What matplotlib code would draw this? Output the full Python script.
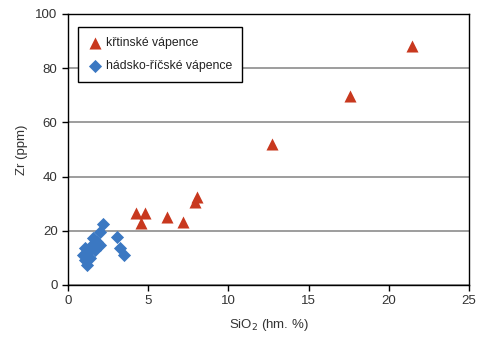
import matplotlib
matplotlib.use('Agg')
import matplotlib.pyplot as plt

# křtinské vápence
krt_sio2 = [4.24, 4.80, 4.55, 6.17, 7.17, 7.92, 8.04, 12.72, 17.58, 21.45]
krt_zr = [26.6, 26.6, 22.9, 25.1, 23.2, 30.6, 32.5, 52.0, 69.7, 88.2]

# hádsko-říčské vápence
had_sio2 = [2.18, 3.05, 3.24, 3.49, 2.00, 1.56, 1.81, 1.50, 1.25, 0.94, 1.06, 1.18, 2.00, 1.37, 1.68, 1.06]
had_zr = [22.5, 17.7, 13.7, 11.1, 19.6, 17.3, 15.9, 14.8, 12.2, 11.1, 9.2, 7.4, 14.8, 10.0, 12.9, 13.7]

plt.rcParams['font.family'] = ['Liberation Sans', 'DejaVu Sans']

fig = plt.figure(figsize=(4.83, 3.47), dpi=100)
ax = fig.add_axes([0.1408, 0.1787, 0.8302, 0.781])

ax.scatter(krt_sio2, krt_zr, marker='^', s=75, color='#c8381e', linewidths=0,
           label='křtinské vápence', zorder=3)
ax.scatter(had_sio2, had_zr, marker='D', s=45, color='#3b78c2', linewidths=0,
           label='hádsko-říčské vápence', zorder=3)

ax.set_xlim(0, 25)
ax.set_ylim(0, 100)
ax.set_xticks(range(0, 26, 5))
ax.set_yticks(range(0, 101, 20))
ax.yaxis.grid(True, color='#8c8c8c', linewidth=1.2)
ax.set_axisbelow(True)
for s in ax.spines.values():
    s.set_linewidth(1.0)
ax.tick_params(direction='out', length=4, width=1, labelsize=9.5,
               colors='black', labelcolor='#333333')

ax.set_xlabel('SiO$_2$ (hm. %)', fontsize=9.5, color='#333333', labelpad=7)
ax.set_ylabel('Zr (ppm)', fontsize=9.5, color='#333333', labelpad=5)

leg = ax.legend(loc='upper left', bbox_to_anchor=(0.025, 0.952), borderaxespad=0,
                fontsize=8.8, frameon=True, fancybox=False, edgecolor='black',
                framealpha=1, handletextpad=0.3, borderpad=0.8,
                labelspacing=0.95, handlelength=1.2)
leg.get_frame().set_linewidth(1.0)
for t in leg.get_texts():
    t.set_color('#222222')

plt.savefig('out.png', dpi=100)
